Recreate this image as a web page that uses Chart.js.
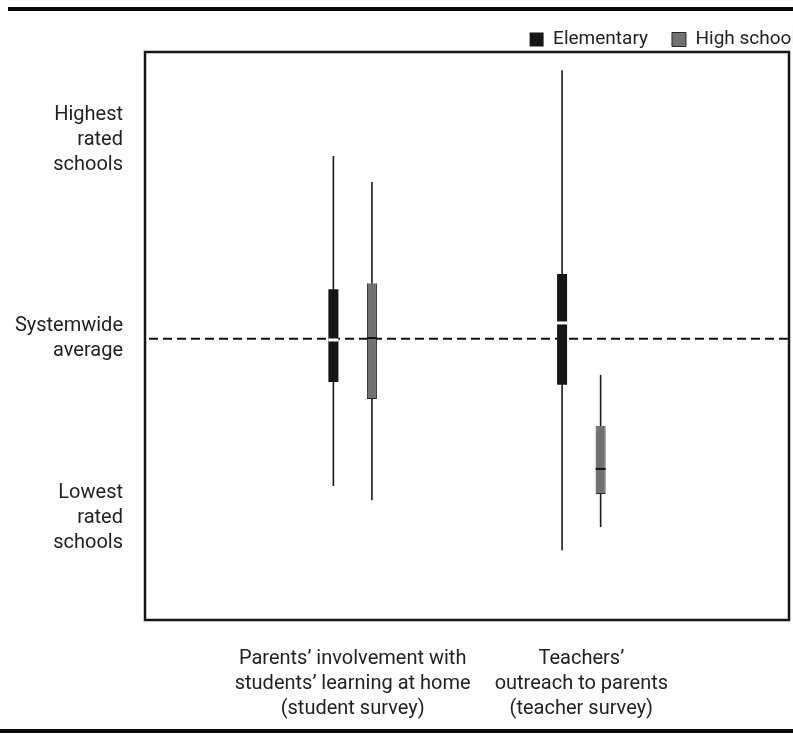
<!DOCTYPE html>
<html>
<head>
<meta charset="utf-8">
<title>Parent involvement and teacher outreach</title>
<script src="https://cdn.jsdelivr.net/npm/chart.js@4.4.1/dist/chart.umd.min.js"></script>
<style>
    html, body { margin: 0; padding: 0; background: #fff; }
    #wrap { width: 793px; height: 734px; }
</style>
</head>
<body>
<div id="wrap"><canvas id="boxChart" width="793" height="734"></canvas></div>
<script>
/** ---------- data (0 = systemwide average) ---------- */

const categories = [
    ["Parents\u2019 involvement with", "students\u2019 learning at home", "(student survey)"],
    ["Teachers\u2019", "outreach to parents", "(teacher survey)"]
];
const categoryPositions = [1, 2];
const seriesNames = ['Elementary', 'High school'];

const elementaryMin = [-51.8, -74.4];
const elementaryQ1 = [-15.2, -16.2];
const elementaryMedian = [-0.4, 5.6];
const elementaryQ3 = [17.5, 22.8];
const elementaryMax = [64.4, 94.6];

const highSchoolMin = [-56.8, -66.3];
const highSchoolQ1 = [-21.2, -54.6];
const highSchoolMedian = [0.3, -45.8];
const highSchoolQ3 = [19.6, -30.7];
const highSchoolMax = [55.2, -12.7];

const systemwideAverage = 0;
const yTickValues = [70, 0, -63];
const yTickLabels = [
    ['Highest', 'rated', 'schools'],
    ['Systemwide', 'average'],
    ['Lowest', 'rated', 'schools']
];

/** ---------- helpers ---------- */

const FONT = 'Roboto, "Liberation Sans", sans-serif';
const mins = [elementaryMin, highSchoolMin];
const medians = [elementaryMedian, highSchoolMedian];
const maxs = [elementaryMax, highSchoolMax];

function boxData(q1, q3) {
    return categoryPositions.map((x, i) => ({x: x, y: [q1[i], q3[i]]}));
}

// whiskers + average line under the boxes, medians and frame on top
const boxPlotPlugin = {
    id: 'boxPlotPlugin',
    afterLayout(chart) {
        // the original legend runs a little past the right edge of the figure
        chart.legend.left += 31;
        chart.legend.right += 31;
    },
    beforeDatasetsDraw(chart) {
        const ctx = chart.ctx;
        const y = chart.scales.y;
        const area = chart.chartArea;

        ctx.save();
        ctx.strokeStyle = '#1a1a1a';
        ctx.lineWidth = 1.6;
        for (let d = 0; d < seriesNames.length; d++) {
            chart.getDatasetMeta(d).data.forEach((bar, i) => {
                ctx.beginPath();
                ctx.moveTo(bar.x, y.getPixelForValue(maxs[d][i]));
                ctx.lineTo(bar.x, y.getPixelForValue(mins[d][i]));
                ctx.stroke();
            });
        }

        let avgY = y.getPixelForValue(systemwideAverage);
        ctx.setLineDash([9, 5]);
        ctx.lineWidth = 2;
        ctx.strokeStyle = '#111';
        ctx.beginPath();
        ctx.moveTo(area.left + 4, avgY);
        ctx.lineTo(area.right, avgY);
        ctx.stroke();
        ctx.restore();
    },
    afterDatasetsDraw(chart) {
        const ctx = chart.ctx;
        const y = chart.scales.y;
        const medianColors = ['#ffffff', '#111111'];
        const medianWidths = [3, 2];

        ctx.save();
        for (let d = 0; d < seriesNames.length; d++) {
            ctx.strokeStyle = medianColors[d];
            ctx.lineWidth = medianWidths[d];
            chart.getDatasetMeta(d).data.forEach((bar, i) => {
                let my = y.getPixelForValue(medians[d][i]);
                ctx.beginPath();
                ctx.moveTo(bar.x - bar.width / 2, my);
                ctx.lineTo(bar.x + bar.width / 2, my);
                ctx.stroke();
            });
        }
        ctx.restore();
    },
    afterDraw(chart) {
        const ctx = chart.ctx;
        const area = chart.chartArea;
        ctx.save();
        ctx.strokeStyle = '#151515';
        ctx.lineWidth = 2.5;
        ctx.strokeRect(area.left, area.top, area.right - area.left, area.bottom - area.top);

        // heavy rules across the top and bottom of the figure
        ctx.fillStyle = '#0a0a0a';
        ctx.fillRect(8, 7, chart.width - 8, 4);
        ctx.fillRect(0, 729, chart.width, 4);
        ctx.restore();
    }
};

/** ---------- chart ---------- */

const ctx = document.getElementById('boxChart').getContext('2d');
const boxChart = new Chart(ctx, {
    type: 'bar',
    data: {
        datasets: [
            {
                label: seriesNames[0],
                data: boxData(elementaryQ1, elementaryQ3),
                backgroundColor: '#161616',
                borderColor: '#000',
                borderWidth: 0,
                categoryPercentage: 0.337,
                barPercentage: 0.26
            },
            {
                label: seriesNames[1],
                data: boxData(highSchoolQ1, highSchoolQ3),
                backgroundColor: '#717171',
                borderColor: '#262626',
                borderWidth: 1,
                categoryPercentage: 0.337,
                barPercentage: 0.26
            }
        ]
    },
    options: {
        responsive: false,
        animation: false,
        devicePixelRatio: 1,
        layout: {
            padding: {top: 6, right: 4, bottom: 11, left: 0}
        },
        plugins: {
            legend: {
                position: 'top',
                align: 'end',
                maxHeight: 46,
                labels: {
                    boxWidth: 14,
                    boxHeight: 14,
                    padding: 24,
                    color: '#222',
                    font: {family: FONT, size: 19}
                }
            },
            tooltip: {enabled: false}
        },
        scales: {
            x: {
                type: 'linear',
                offset: false,
                min: 0.092,
                max: 2.908,
                grid: {display: false, drawTicks: false, offset: false},
                border: {display: false},
                afterBuildTicks: function (scale) {
                    scale.ticks = categoryPositions.map(v => ({value: v}));
                },
                afterFit: function (scale) {
                    scale.height = 103;
                    scale.paddingLeft = 0;
                    scale.paddingRight = 0;
                },
                ticks: {
                    padding: 26,
                    color: '#222',
                    maxRotation: 0,
                    autoSkip: false,
                    font: {family: FONT, size: 20, lineHeight: 1.25},
                    callback: function (value) {
                        return categories[categoryPositions.indexOf(value)];
                    }
                }
            },
            y: {
                min: -99,
                max: 101,
                grid: {display: false, drawTicks: false},
                border: {display: false},
                afterBuildTicks: function (scale) {
                    scale.ticks = yTickValues.map(v => ({value: v}));
                },
                afterFit: function (scale) {
                    scale.width = 145;
                    scale.paddingTop = 0;
                    scale.paddingBottom = 0;
                },
                ticks: {
                    padding: 22,
                    color: '#222',
                    autoSkip: false,
                    font: {family: FONT, size: 20, lineHeight: 1.25},
                    callback: function (value) {
                        return yTickLabels[yTickValues.indexOf(value)];
                    }
                }
            }
        }
    },
    plugins: [boxPlotPlugin]
});
</script>
</body>
</html>
